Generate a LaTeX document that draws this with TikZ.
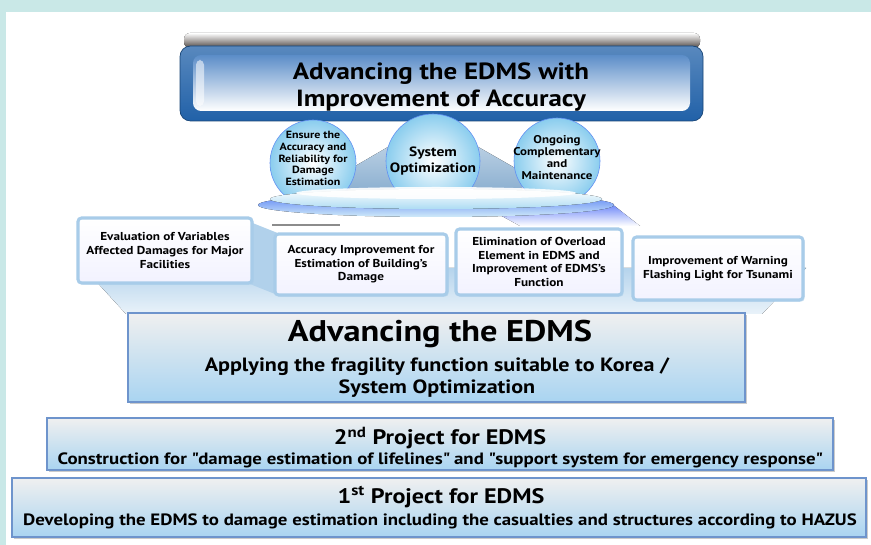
\documentclass[tikz,border=0pt]{standalone}
\usepackage{fontspec}
\setmainfont{PT Sans}[FakeStretch=1.15]
\usetikzlibrary{positioning,fit,shadows}

\definecolor{tealbg}{HTML}{C9E8E7}
\definecolor{deepblue}{HTML}{2161A8}
\definecolor{midblue}{HTML}{5B8DC8}
\definecolor{paleblue}{HTML}{A9D4F1}
\definecolor{edgeblue}{HTML}{6E94CC}
\definecolor{glowblue}{HTML}{A8CCE9}
\definecolor{skyblue}{HTML}{8ACDEE}
\definecolor{wingblue}{HTML}{8BAFD0}
\definecolor{plateshade}{HTML}{4E4642}

\begin{document}
\begin{tikzpicture}[x=0.03cm,y=-0.03cm,
  layerbox/.style={draw=edgeblue,line width=1.2pt,inner sep=0pt,
    top color=black!6,bottom color=paleblue,
    drop shadow={shadow xshift=1.6pt,shadow yshift=-1.6pt,fill=black!40}},
  itembox/.style={draw=glowblue,line width=2.6pt,rounded corners=3pt,inner sep=0pt,
    top color=white,bottom color=blue!5,
    drop shadow={shadow xshift=1.4pt,shadow yshift=-1.4pt,fill=glowblue}},
  sphere/.style={circle,inner sep=0pt,draw=skyblue!70!blue,line width=0.5pt,
    inner color=white,outer color=skyblue},
  itemtext/.style={font=\bfseries\fontsize{9.8}{11.6}\selectfont,align=center},
  balltext/.style={font=\bfseries\fontsize{8.9}{10}\selectfont,align=center}]
  \useasboundingbox (0,0) rectangle (871,545);
  \fill[tealbg] (0,0) rectangle (871,545);
  \fill[white] (6,12) rectangle (871,545);

  % title plate
  \fill[rounded corners=5pt,top color=white,bottom color=plateshade] (184,33) rectangle (700,48);
  \node[fit={(180,46) (703,121)},inner sep=0pt,rounded corners=9pt,
        top color=deepblue!75,bottom color=deepblue,draw=deepblue!70!black,line width=0.6pt] (head_frame) {};
  \node[fit={(193,55) (690,111)},inner sep=0pt,rounded corners=7pt,
        top color=midblue,middle color=midblue!45,bottom color=white] (head_face) {};
  \fill[white,opacity=0.55,rounded corners=4pt] (196,60) rectangle (204,106);
  \node[font=\bfseries\fontsize{20}{23.8}\selectfont,align=center] (head) at (441,87)
        {Advancing the EDMS with\\Improvement of Accuracy};

  % blue base under the item boxes
  \fill[top color=glowblue!85,bottom color=glowblue!25] (84,268) -- (806,268) -- (762,314) -- (126,314) -- cycle;
  \fill[glowblue!90] (250,222) -- (280,234) -- (280,296) -- (250,284) -- cycle;
  \fill[top color=skyblue!50!blue!80,bottom color=white] (480,204) -- (612,204) -- (640,226) -- (520,226) -- cycle;
  \draw[black!45,line width=1.2pt] (272,225) -- (340,225);

  % spheres on the platform
  \fill[top color=wingblue!55,bottom color=wingblue] (345,192) -- (345,172) -- (400,140) -- (466,140) -- (522,172) -- (522,192) -- cycle;
  \node[sphere,minimum size=2.58cm] (ball_l) at (313,163) {};
  \node[sphere,minimum size=2.82cm] (ball_m) at (433,161) {};
  \node[sphere,minimum size=2.58cm] (ball_r) at (557,161) {};
  \fill[top color=skyblue!60!blue,bottom color=skyblue!40] (436,205) ellipse (178 and 12);
  \fill[top color=white,bottom color=skyblue!70] (436,199) ellipse (166 and 10);
  \fill[white,opacity=0.9] (436,193) ellipse (140 and 6);
  \node[balltext] (acc) at (ball_l.center) [yshift=0.13cm] {Ensure the\\Accuracy and\\Reliability for\\Damage\\Estimation};
  \node[font=\bfseries\fontsize{11.5}{14}\selectfont,align=center] (opt) at (ball_m.center) {System\\Optimization};
  \node[balltext,font=\bfseries\fontsize{9.6}{10.2}\selectfont] (maint) at (ball_r.center) [yshift=0.1cm] {Ongoing\\Complementary\\and\\Maintenance};

  % item boxes
  \node[itembox,fit={(78,218) (252,283)}] (eval) {};
  \node[itembox,fit={(275,234) (447,295)}] (bldg) {};
  \node[itembox,fit={(456,229) (622,295)}] (overload) {};
  \node[itembox,fit={(633,237) (803,300)}] (tsunami) {};
  \node[itemtext] at (eval.center) {Evaluation of Variables\\Affected Damages for Major\\Facilities};
  \node[itemtext] at (bldg.center) {Accuracy Improvement for\\Estimation of Building's\\Damage};
  \node[itemtext] at (overload.center) {Elimination of Overload\\Element in EDMS and\\Improvement of EDMS's\\Function};
  \node[itemtext] at (tsunami.center) {Improvement of Warning\\Flashing Light for Tsunami};

  % project layers
  \node[layerbox,fit={(128,313) (745,402)}] (core) {};
  \node[font=\bfseries\fontsize{25.5}{30}\selectfont] (core_title) at (440,334) {Advancing the EDMS};
  \node[font=\bfseries\fontsize{16.4}{18.7}\selectfont,align=center] (core_sub) at (437,378)
        {Applying the fragility function suitable to Korea /\\System Optimization};
  \node[layerbox,fit={(47,418) (833,470)}] (proj_2) {};
  \node[font=\bfseries\fontsize{17.9}{20}\selectfont] (proj_2_title) at (440,438) {2\textsuperscript{nd} Project for EDMS};
  \node[font=\bfseries\fontsize{14}{16}\selectfont] (proj_2_sub) at (440,460)
        {Construction for \textquotedbl damage estimation of lifelines\textquotedbl{} and \textquotedbl support system for emergency response\textquotedbl};
  \node[layerbox,fit={(12,478) (866,537)}] (proj_1) {};
  \node[font=\bfseries\fontsize{17.9}{20}\selectfont] (proj_1_title) at (441,497) {1\textsuperscript{st} Project for EDMS};
  \node[font=\bfseries\fontsize{14}{16}\selectfont] (proj_1_sub) at (440,521)
        {Developing the EDMS to damage estimation including the casualties and structures according to HAZUS};
\end{tikzpicture}
\end{document}
